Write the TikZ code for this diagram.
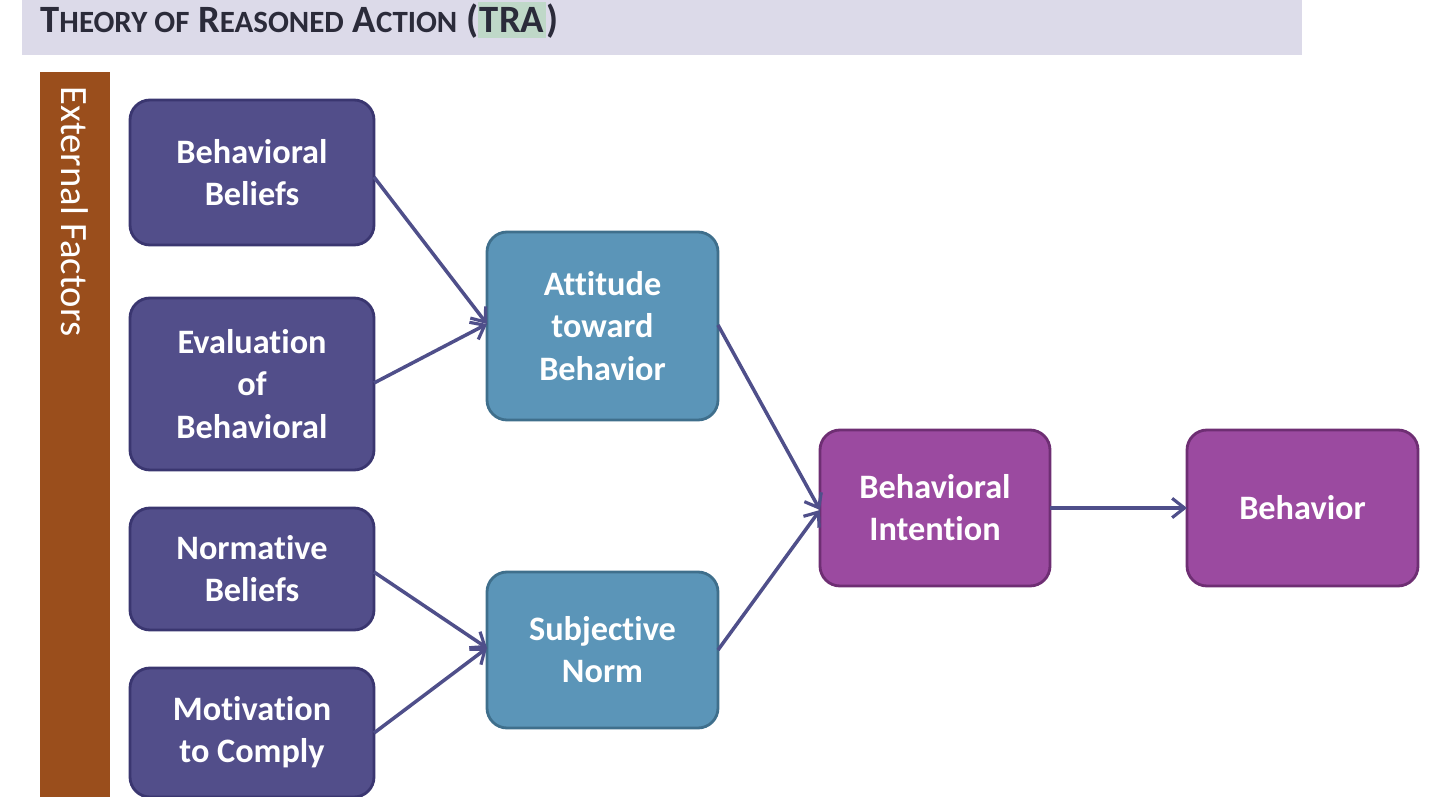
\documentclass[tikz,border=0pt]{standalone}
\usepackage{fontspec}
\setmainfont[Ligatures=NoCommon]{Carlito}
\usetikzlibrary{arrows.meta}
\definecolor{banner}{HTML}{DCDAE9}
\definecolor{extbar}{HTML}{9A4E1C}
\definecolor{belief}{HTML}{524E8A}
\definecolor{beliefline}{HTML}{3A3670}
\definecolor{mid}{HTML}{5B95B8}
\definecolor{midline}{HTML}{3F6F8C}
\definecolor{outc}{HTML}{9B4AA0}
\definecolor{outline}{HTML}{6E2E73}
\definecolor{arr}{HTML}{4F4F8A}
\definecolor{tra}{HTML}{BFD8C8}
\definecolor{titletext}{HTML}{2B2B3A}
\tikzset{
  px/.style={x=0.02cm,y=-0.02cm},
  box/.style={rounded corners=0.4cm, line width=1.6pt, align=center, text=white,
    font=\fontsize{19.5}{24}\selectfont\bfseries, inner sep=0pt},
  conn/.style={-{Straight Barb[length=7pt,width=11pt,line width=1.8pt]}, arr, line width=2pt}
}
\begin{document}
\begin{tikzpicture}[px]
\useasboundingbox (0,0) rectangle (1440,797);
% banner
\fill[banner] (22,0) rectangle (1302,55);
\node[anchor=west, text=titletext, inner sep=0pt] (title) at (40,20)
  {\fontsize{22}{24}\selectfont\bfseries T\scalebox{0.8}{HEORY OF} R\scalebox{0.8}{EASONED} A\scalebox{0.8}{CTION} (\colorbox{tra}{\kern-2pt TRA\kern-2pt})};
% external factors bar
\fill[extbar] (40,72) rectangle (110,797);
\node[rotate=-90, anchor=west, text=white, inner sep=0pt, font=\fontsize{22}{24}\selectfont] (ext) at (75,86) {External Factors};
% boxes
\draw[box, fill=belief, draw=beliefline] (130,100) rectangle (374,245) node[midway] (bb) {};
\node[box] at (bb) {Behavioral\\Beliefs};
\draw[box, fill=belief, draw=beliefline] (130,298) rectangle (374,470) node[midway] (eb) {};
\node[box] at (eb) {Evaluation\\of\\Behavioral};
\draw[box, fill=belief, draw=beliefline] (130,508) rectangle (374,630) node[midway] (nb) {};
\node[box] at (nb) {Normative\\Beliefs};
\draw[box, fill=belief, draw=beliefline] (130,668) rectangle (374,797) node[midway] (mc) {};
\node[box] at (mc) {Motivation\\to Comply};
\draw[box, fill=mid, draw=midline] (487,232) rectangle (718,420) node[midway] (at) {};
\node[box] at (at) {Attitude\\toward\\Behavior};
\draw[box, fill=mid, draw=midline] (487,572) rectangle (718,728) node[midway] (sn) {};
\node[box] at (sn) {Subjective\\Norm};
\draw[box, fill=outc, draw=outline] (820,430) rectangle (1050,586) node[midway] (bi) {};
\node[box] at (bi) {Behavioral\\Intention};
\draw[box, fill=outc, draw=outline] (1187,430) rectangle (1418,586) node[midway] (be) {};
\node[box] at (be) {Behavior};
% connector end points
\coordinate (bbR) at (374,177);
\coordinate (ebR) at (374,383);
\coordinate (nbR) at (374,572);
\coordinate (mcR) at (374,733);
\coordinate (atL) at (487,324);
\coordinate (atR) at (718,325);
\coordinate (snL) at (487,648);
\coordinate (snR) at (718,650);
\coordinate (biL) at (820,510);
\coordinate (biR) at (1050,508);
\coordinate (beL) at (1187,508);
\draw[conn] (bbR) -- (atL);
\draw[conn] (ebR) -- (atL);
\draw[conn] (nbR) -- (snL);
\draw[conn] (mcR) -- (snL);
\draw[conn] (atR) -- (biL);
\draw[conn] (snR) -- (biL);
\draw[conn] (biR) -- (beL);
\end{tikzpicture}
\end{document}
